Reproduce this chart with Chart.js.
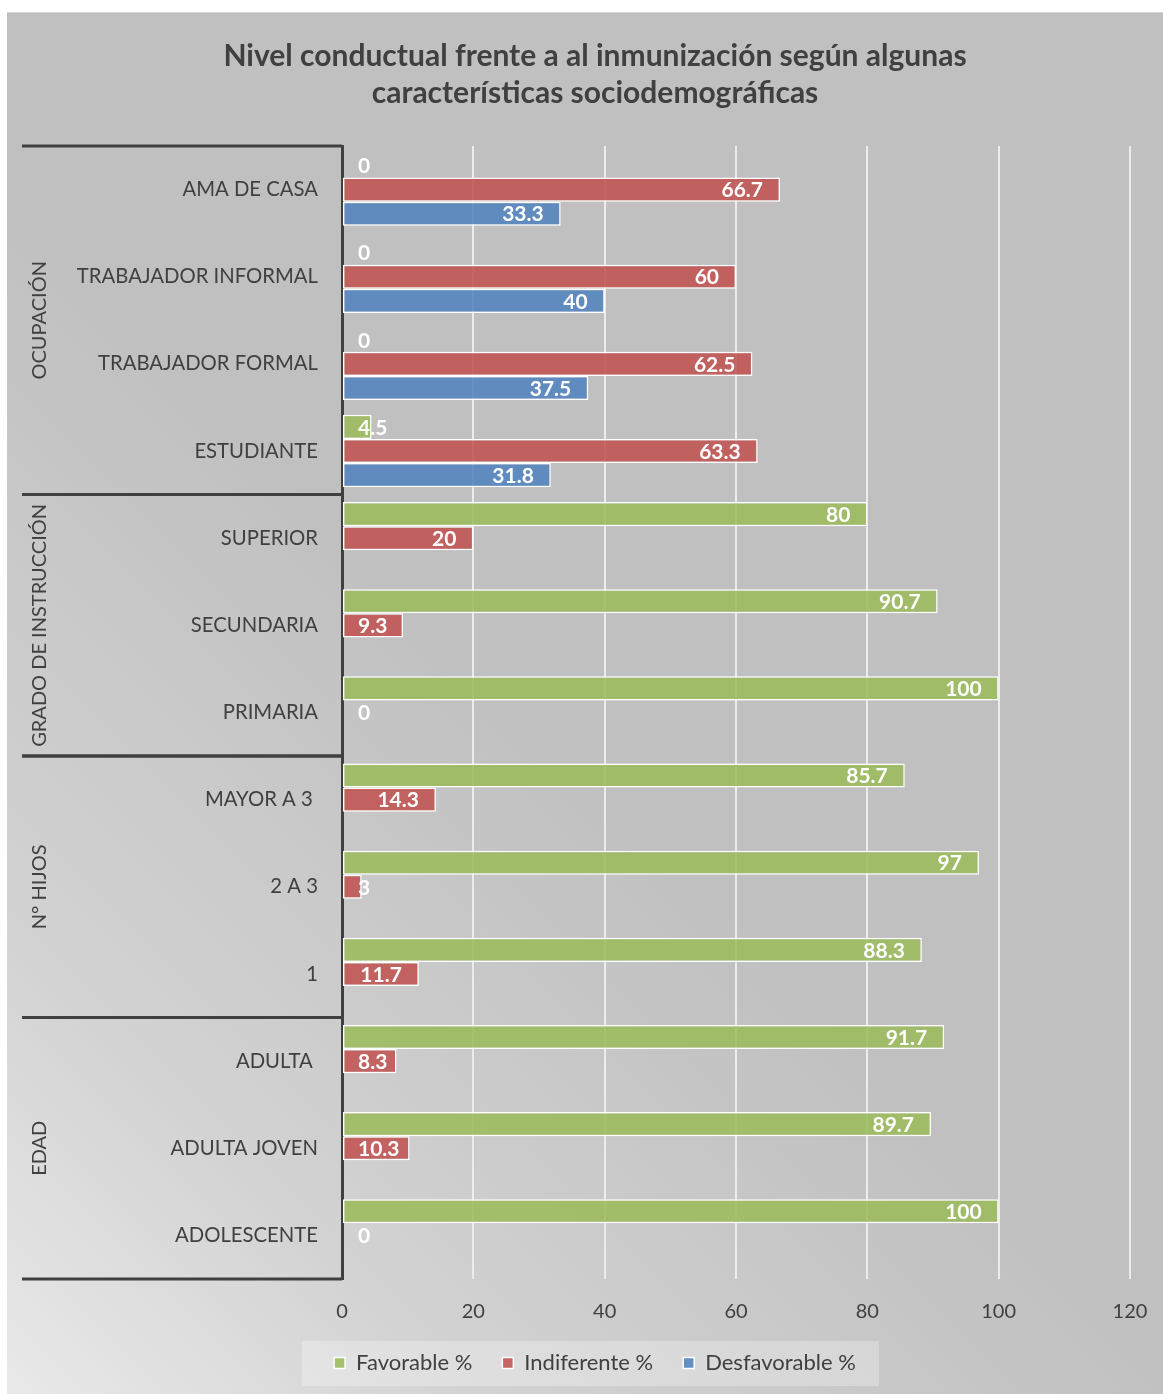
<!DOCTYPE html>
<html lang="es">
<head>
<meta charset="utf-8">
<title>Nivel conductual frente a al inmunización</title>
<script src="https://cdn.jsdelivr.net/npm/chart.js@4.4.1/dist/chart.umd.min.js"></script>
<style>
  html, body { margin: 0; padding: 0; background: #ffffff; }
  canvas { display: block; }
</style>
</head>
<body>
<canvas id="chart" width="1163" height="1394"></canvas>
<script>
// Categories, top to bottom
const categories = [
  'AMA DE CASA', 'TRABAJADOR INFORMAL', 'TRABAJADOR FORMAL', 'ESTUDIANTE',
  'SUPERIOR', 'SECUNDARIA', 'PRIMARIA',
  'MAYOR A 3 ', '2 A 3', '1',
  'ADULTA ', 'ADULTA JOVEN', 'ADOLESCENTE'
];

// Group headings on the left (first and last category index of each group)
const groupNames = ['OCUPACIÓN', 'GRADO DE INSTRUCCIÓN', 'N° HIJOS', 'EDAD'];
const groupStart = [0, 4, 7, 10];
const groupEnd   = [3, 6, 9, 12];

// Series (%)
const favorable    = [0, 0, 0, 4.5, 80, 90.7, 100, 85.7, 97, 88.3, 91.7, 89.7, 100];
const indiferente  = [66.7, 60, 62.5, 63.3, 20, 9.3, 0, 14.3, 3, 11.7, 8.3, 10.3, 0];
const desfavorable = [33.3, 40, 37.5, 31.8, null, null, null, null, null, null, null, null, null];

const seriesNames = ['Favorable %', 'Indiferente %', 'Desfavorable %'];

// Value axis
const axisMin = 0;
const axisMax = 120;
const axisStep = 20;

const titleLines = [
  'Nivel conductual frente a al inmunización según algunas',
  'características sociodemográficas'
];

const FONT = 'Lato, "Open Sans", sans-serif';
const TEXT = '#404040';

// Panel background, legend backdrop, group brackets and bar value labels
const decorations = {
  id: 'decorations',
  beforeDraw(chart) {
    const { ctx, width, height } = chart;
    ctx.save();
    ctx.fillStyle = '#ffffff';
    ctx.fillRect(0, 0, width, height);
    const g = ctx.createLinearGradient(7, height, 7 + 600, height - 600);
    g.addColorStop(0, '#e9e9e9');
    g.addColorStop(0.4, '#d2d2d2');
    g.addColorStop(1, '#c0c0c0');
    ctx.fillStyle = g;
    ctx.fillRect(7, 12, width - 7, height - 12);
    ctx.fillStyle = '#d6d6d6';
    ctx.fillRect(7, 12, width - 7, 1);

    const hb = chart.legend && chart.legend.legendHitBoxes;
    if (hb && hb.length) {
      const first = hb[0];
      const last = hb[hb.length - 1];
      const cy = first.top + first.height / 2;
      ctx.fillStyle = 'rgba(255,255,255,0.28)';
      ctx.fillRect(first.left - 32, cy - 22, (last.left + last.width) - first.left + 55, 45);
    }
    ctx.restore();
  },
  afterDatasetsDraw(chart) {
    const { ctx } = chart;
    const x0 = chart.scales.x.getPixelForValue(0);
    ctx.save();
    ctx.font = 'bold 21px ' + FONT;
    ctx.fillStyle = '#ffffff';
    ctx.textAlign = 'left';
    ctx.textBaseline = 'middle';
    chart.data.datasets.forEach((ds, di) => {
      const meta = chart.getDatasetMeta(di);
      meta.data.forEach((bar, i) => {
        const v = ds.data[i];
        if (v === null || v === undefined) return;
        const txt = String(v);
        const w = ctx.measureText(txt).width;
        const left = Math.max(bar.x - 17 - w, x0 + 16);
        ctx.fillText(txt, left, bar.y + 1);
      });
    });
    ctx.restore();
  },
  afterDraw(chart) {
    const { ctx, chartArea } = chart;
    const y = chart.scales.y;
    const slot = y.getPixelForValue(1) - y.getPixelForValue(0);
    ctx.save();
    ctx.strokeStyle = TEXT;
    ctx.lineWidth = 3;
    ctx.fillStyle = TEXT;
    ctx.font = '20px ' + FONT;
    ctx.textAlign = 'center';
    ctx.textBaseline = 'middle';
    groupNames.forEach((name, k) => {
      const top = y.getPixelForValue(groupStart[k]) - slot / 2;
      const bottom = y.getPixelForValue(groupEnd[k]) + slot / 2;
      [top, bottom].forEach(py => {
        ctx.beginPath();
        ctx.moveTo(22, py);
        ctx.lineTo(chartArea.left, py);
        ctx.stroke();
      });
      ctx.save();
      ctx.translate(40, (top + bottom) / 2);
      ctx.rotate(-Math.PI / 2);
      ctx.fillText(name, 0, 0);
      ctx.restore();
    });
    ctx.restore();
  }
};

const barStyle = {
  borderColor: '#ffffff',
  borderWidth: 1.5,
  borderSkipped: false,
  categoryPercentage: 0.83,
  barPercentage: 1.0
};

new Chart(document.getElementById('chart'), {
  type: 'bar',
  data: {
    labels: categories,
    datasets: [
      Object.assign({ label: seriesNames[0], data: favorable,    backgroundColor: 'rgba(155,187,89,0.85)' }, barStyle),
      Object.assign({ label: seriesNames[1], data: indiferente,  backgroundColor: 'rgba(192,80,77,0.85)' }, barStyle),
      Object.assign({ label: seriesNames[2], data: desfavorable, backgroundColor: 'rgba(79,129,189,0.85)' }, barStyle)
    ]
  },
  options: {
    indexAxis: 'y',
    responsive: false,
    animation: false,
    layout: { padding: { left: 60, right: 33, top: 0, bottom: 10 } },
    scales: {
      x: {
        min: axisMin,
        max: axisMax,
        afterFit(scale) {
          scale.height = 43;
          scale.paddingLeft = 0;
          scale.paddingRight = 0;
        },
        ticks: { stepSize: axisStep, color: TEXT, font: { family: FONT, size: 20 }, padding: 21 },
        grid: { color: '#ececec', lineWidth: 2, drawTicks: false },
        border: { display: false }
      },
      y: {
        afterFit(scale) { scale.width = 282; },
        ticks: { color: TEXT, font: { family: FONT, size: 20.3 }, padding: 24 },
        grid: { display: false, drawTicks: false },
        border: { display: true, color: TEXT, width: 3 }
      }
    },
    plugins: {
      tooltip: { enabled: false },
      title: {
        display: true,
        text: titleLines,
        color: TEXT,
        font: { family: FONT, size: 30, weight: 'bold', lineHeight: 37 / 30 },
        padding: { top: 37.5, bottom: 34.5 }
      },
      legend: {
        position: 'bottom',
        labels: {
          color: TEXT,
          font: { family: FONT, size: 22 },
          boxWidth: 11,
          boxHeight: 11,
          padding: 30
        }
      }
    }
  },
  plugins: [decorations]
});
</script>
</body>
</html>
